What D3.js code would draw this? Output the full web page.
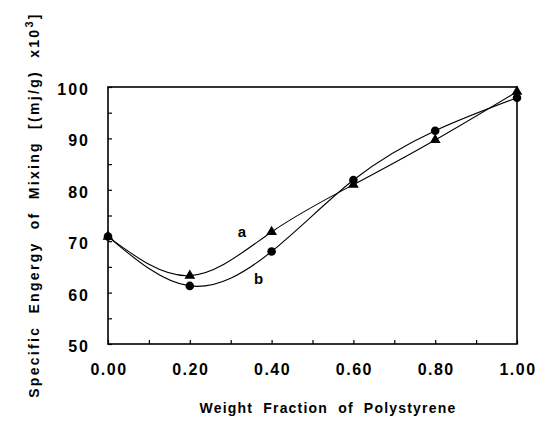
<!DOCTYPE html>
<html>
<head>
<meta charset="utf-8">
<script src="https://cdn.jsdelivr.net/npm/d3@7"></script>
<style>
  body { margin:0; background:#fff; }
  text { font-family:"Liberation Sans", Arial, sans-serif; font-weight:bold; fill:#000; }
</style>
</head>
<body>
<svg id="chart" width="542" height="423"></svg>
<script>
// weight fraction of polystyrene
const fractions = [0.0, 0.2, 0.4, 0.6, 0.8, 1.0];
// curve a (triangles) and curve b (circles), energy x10^3
const seriesA = [70.9, 63.3, 71.8, 81.0, 89.7, 99.1];
const seriesB = [70.9, 61.3, 68.0, 81.9, 91.5, 97.9];
const xTicks = [0, 0.2, 0.4, 0.6, 0.8, 1.0];
const yTicks = [50, 60, 70, 80, 90, 100];

const svg = d3.select('#chart');
const m = { left:108, right:25, top:87, bottom:79 };
const W = 542, H = 423;

const x = d3.scaleLinear().domain([0, 1]).range([m.left, W - m.right]);
const y = d3.scaleLinear().domain([50, 100]).range([H - m.bottom, m.top]);

// frame
svg.append('rect')
  .attr('x', x(0)).attr('y', y(100))
  .attr('width', x(1) - x(0)).attr('height', y(50) - y(100))
  .attr('fill', 'none').attr('stroke', '#000').attr('stroke-width', 1.6);

// inward ticks
const gx = svg.append('g').attr('transform', `translate(0,${y(50)})`)
  .call(d3.axisTop(x).tickValues(d3.range(0, 11).map(i => i / 10)).tickSize(4).tickFormat(''));
const gy = svg.append('g').attr('transform', `translate(${x(0)},0)`)
  .call(d3.axisRight(y).tickValues(d3.range(50, 101, 5)).tickSize(4).tickFormat(''));
[gx, gy].forEach(g => {
  g.select('.domain').remove();
  g.selectAll('line').attr('stroke', '#000').attr('stroke-width', 1.2);
});

// tick labels
svg.append('g').selectAll('text').data(xTicks).join('text')
  .attr('x', d => x(d) + 1).attr('y', y(50) + 31)
  .attr('text-anchor', 'middle').attr('font-size', 16).attr('letter-spacing', 1.5)
  .text(d => d.toFixed(2));
svg.append('g').selectAll('text').data(yTicks).join('text')
  .attr('x', x(0) - 18).attr('y', d => y(d) + 8)
  .attr('text-anchor', 'end').attr('font-size', 16).attr('letter-spacing', 2)
  .text(d => d);

// axis titles
svg.append('text')
  .attr('x', 328).attr('y', 413)
  .attr('text-anchor', 'middle').attr('font-size', 14)
  .attr('letter-spacing', 1.2).attr('word-spacing', 5)
  .text('Weight Fraction of Polystyrene');

const yt = svg.append('text')
  .attr('transform', 'translate(39,205) rotate(-90)')
  .attr('text-anchor', 'middle').attr('font-size', 14)
  .attr('letter-spacing', 2.3).attr('word-spacing', 6);
yt.append('tspan').text('Specific Engergy of Mixing [(mj/g) x10');
yt.append('tspan').attr('dy', -6).attr('font-size', 11).text('3');
yt.append('tspan').attr('dy', 6).text(']');

// curves
const line = d3.line().x(d => x(d[0])).y(d => y(d[1])).curve(d3.curveNatural);
[seriesA, seriesB].forEach(s => {
  svg.append('path')
    .datum(fractions.map((f, i) => [f, s[i]]))
    .attr('d', line).attr('fill', 'none').attr('stroke', '#000').attr('stroke-width', 1.1);
});

// markers
const tri = d3.symbol().type(d3.symbolTriangle).size(50);
svg.append('g').selectAll('path').data(fractions).join('path')
  .attr('transform', (d, i) => `translate(${x(d)},${y(seriesA[i])})`)
  .attr('d', tri).attr('fill', '#000');
svg.append('g').selectAll('circle').data(fractions).join('circle')
  .attr('cx', d => x(d)).attr('cy', (d, i) => y(seriesB[i]))
  .attr('r', 4.3).attr('fill', '#000');

// curve labels
svg.append('text').attr('x', x(0.3) + 7).attr('y', y(71.5) + 4).attr('font-size', 15).text('a');
svg.append('text').attr('x', x(0.34) + 7).attr('y', y(61.3) - 2).attr('font-size', 15).text('b');
</script>
</body>
</html>
